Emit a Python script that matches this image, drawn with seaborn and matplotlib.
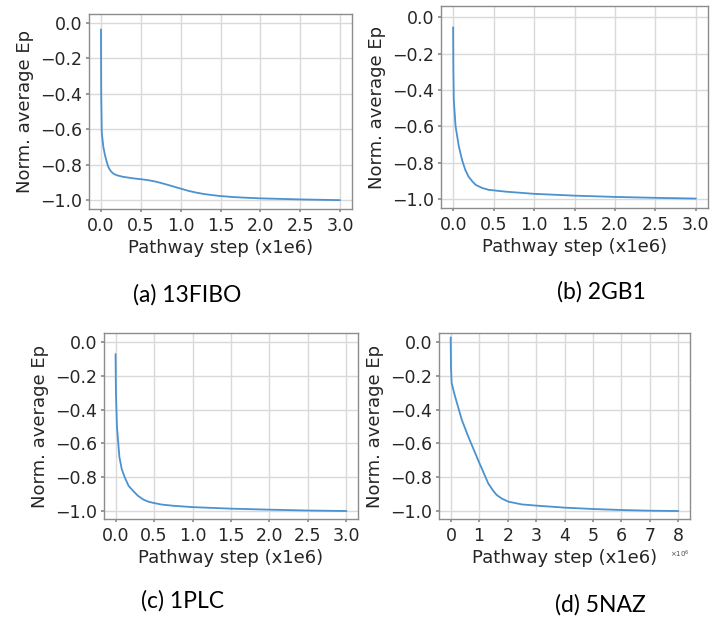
import numpy as np
import pandas as pd
import matplotlib
matplotlib.use("Agg")
import matplotlib.pyplot as plt
import seaborn as sns

# ---- data ----
a_x = [0.0, 0.003, 0.01, 0.03, 0.05, 0.07, 0.09, 0.11, 0.13, 0.16, 0.20, 0.27, 0.34, 0.40, 0.50, 0.60, 0.70, 0.80, 0.90, 1.00, 1.10, 1.20, 1.30, 1.40, 1.50, 1.67, 1.80, 2.00, 2.50, 3.00]
a_y = [-0.038, -0.40, -0.62, -0.70, -0.746, -0.78, -0.81, -0.828, -0.84, -0.852, -0.86, -0.868, -0.873, -0.877, -0.882, -0.888, -0.897, -0.909, -0.922, -0.935, -0.948, -0.958, -0.966, -0.972, -0.977, -0.983, -0.986, -0.990, -0.996, -1.000]

b_x = [0.0, 0.003, 0.008, 0.03, 0.07, 0.11, 0.15, 0.19, 0.24, 0.28, 0.36, 0.44, 0.65, 1.00, 1.50, 2.00, 2.50, 3.00]
b_y = [-0.055, -0.30, -0.455, -0.60, -0.71, -0.785, -0.84, -0.877, -0.905, -0.923, -0.940, -0.950, -0.960, -0.972, -0.982, -0.989, -0.994, -0.998]

c_x = [0.0, 0.005, 0.018, 0.05, 0.08, 0.12, 0.17, 0.23, 0.29, 0.36, 0.42, 0.49, 0.60, 0.75, 1.00, 1.50, 2.00, 2.50, 3.00]
c_y = [-0.073, -0.30, -0.50, -0.68, -0.75, -0.80, -0.85, -0.88, -0.908, -0.93, -0.942, -0.95, -0.96, -0.967, -0.975, -0.984, -0.990, -0.995, -0.998]

d_x = [0.0, 0.01, 0.035, 0.15, 0.39, 0.62, 0.97, 1.32, 1.50, 1.62, 1.80, 2.03, 2.50, 3.00, 4.00, 5.00, 6.00, 7.00, 8.00]
d_y = [0.025, -0.15, -0.245, -0.32, -0.46, -0.56, -0.70, -0.835, -0.88, -0.904, -0.925, -0.943, -0.959, -0.966, -0.978, -0.986, -0.992, -0.996, -0.998]

captions = ["(a) 13FIBO", "(b) 2GB1", "(c) 1PLC", "(d) 5NAZ"]
xlabel = "Pathway step (x1e6)"
ylabel = "Norm. average Ep"

sns.set_theme(style="whitegrid", rc={
    "axes.edgecolor": "0.55",
    "axes.linewidth": 1.0,
    "grid.color": "0.85",
    "grid.linewidth": 1.0,
    "xtick.bottom": True,
    "ytick.left": True,
    "xtick.major.size": 2.5,
    "ytick.major.size": 2.5,
    "xtick.major.pad": 3,
    "ytick.major.pad": 2.5,
    "xtick.color": "0.55",
    "ytick.color": "0.55",
    "xtick.labelcolor": "0.15",
    "ytick.labelcolor": "0.15",
    "axes.labelcolor": "0.15",
})
plt.rcParams["font.family"] = ["DejaVu Sans"]

fig = plt.figure(figsize=(7.14, 6.19), dpi=100)
W, H = 714, 619

def add_ax(left, right, top, bottom):
    return fig.add_axes([left / W, 1 - bottom / H, (right - left) / W, (bottom - top) / H])

boxes = [(89, 352, 14, 209), (441, 708, 6, 208), (104, 358, 333, 519), (439, 690, 333, 519)]
datasets = [(a_x, a_y), (b_x, b_y), (c_x, c_y), (d_x, d_y)]
ylims = [(-1.05, 0.049), (-1.05, 0.062), (-1.045, 0.051), (-1.045, 0.051)]
cap_pos = [(187, 295), (601, 292), (183, 601), (600, 605)]

line_color = "#4a92d0"
for i, (box, (xs, ys)) in enumerate(zip(boxes, datasets)):
    ax = add_ax(*box)
    if i == 3:
        df = pd.DataFrame({"x": np.array(xs) * 1e6, "y": ys})
    else:
        df = pd.DataFrame({"x": xs, "y": ys})
    sns.lineplot(data=df, x="x", y="y", ax=ax, color=line_color, linewidth=1.3,
                 estimator=None, sort=False)
    ax.set_ylim(*ylims[i])
    ax.set_yticks([0.0, -0.2, -0.4, -0.6, -0.8, -1.0])
    if i == 3:
        ax.set_xlim(-0.41e6, 8.41e6)
        ax.set_xticks(np.arange(0, 9) * 1e6)
        ax.ticklabel_format(axis="x", style="sci", scilimits=(0, 0), useMathText=True)
        ax.xaxis.get_offset_text().set_fontsize(5)
        ax.xaxis.get_offset_text().set_color("0.3")
    else:
        ax.set_xlim(-0.15, 3.15)
        ax.set_xticks([0.0, 0.5, 1.0, 1.5, 2.0, 2.5, 3.0])
    ax.tick_params(labelsize=12.5)
    ax.set_xlabel(xlabel, fontsize=13, labelpad=3)
    ax.set_ylabel(ylabel, fontsize=13, labelpad=4)
    cx, cy = cap_pos[i]
    fig.text(cx / W, 1 - cy / H, captions[i], ha="center", va="center",
             fontsize=16.5, family=["Lato", "DejaVu Sans"], color="black")

fig.savefig("out.png", dpi=100)
